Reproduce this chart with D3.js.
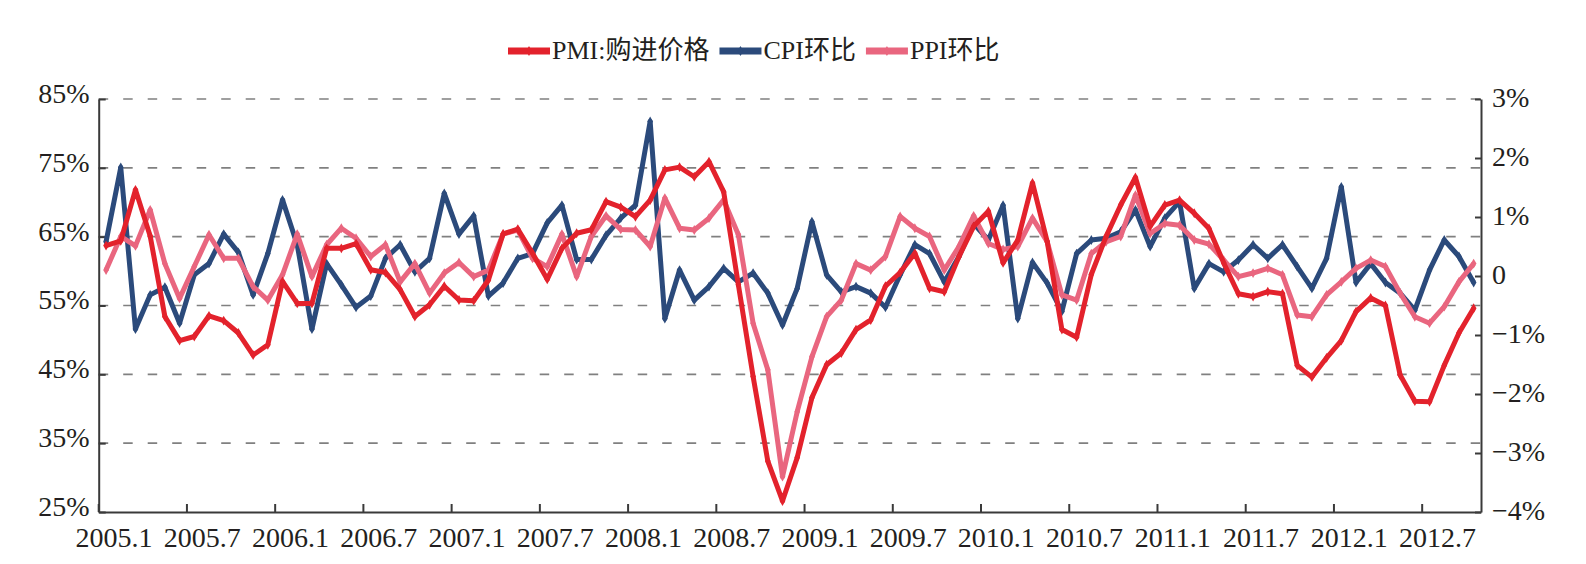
<!DOCTYPE html>
<meta charset="utf-8">

<style>
body { margin: 0; background: #fff; }
svg.chart { background: #fff; }
svg.chart text { font-family: "Liberation Serif", "Times New Roman", "Noto Sans CJK SC", serif; fill: #231f20; }
svg.chart .axis path, svg.chart .axis line { stroke: #3a3a3a; stroke-width: 2; }
svg.chart .axis text { font-size: 28px; }
svg.chart .grid line { stroke: #808080; stroke-width: 1.6; stroke-dasharray: 9.5 15; }
svg.chart .series { fill: none; stroke-width: 5; stroke-linejoin: round; }
svg.chart .legend text { font-size: 26px; }
</style>

<svg class="chart" width="1586" height="564"></svg>

<script src="https://d3js.org/d3.v7.min.js"></script>

<script>

// months 2005.1 .. 2012.10
var months = [];
for (var yr = 2005; yr <= 2012; yr++) {
  for (var m = 1; m <= 12; m++) {
    if (yr === 2012 && m > 10) break;
    months.push(yr + "." + m);
  }
}

var tickMonths = ["2005.1", "2005.7", "2006.1", "2006.7", "2007.1", "2007.7", "2008.1", "2008.7",
  "2009.1", "2009.7", "2010.1", "2010.7", "2011.1", "2011.7", "2012.1", "2012.7"];
var leftTicks = [25, 35, 45, 55, 65, 75, 85];
var rightTicks = [-4, -3, -2, -1, 0, 1, 2, 3];

var seriesNames = ["PMI:购进价格", "CPI环比", "PPI环比"];

// PMI purchase price index (%), left axis
var pmi = [63.7, 64.4, 71.8, 65.1, 53.4, 49.9, 50.5, 53.5, 52.8, 51.0, 47.8, 49.3,
  58.5, 55.3, 55.3, 63.3, 63.3, 64.0, 60.2, 59.8, 57.3, 53.4, 55.1, 57.8,
  55.8, 55.7, 58.7, 65.4, 66.1, 62.6, 58.8, 63.3, 65.5, 66.0, 70.1, 69.3,
  67.9, 70.3, 74.7, 75.1, 73.7, 75.9, 71.5, 58.0, 44.7, 32.4, 26.6, 32.9,
  41.6, 46.4, 48.1, 51.5, 52.9, 57.8, 59.8, 62.6, 57.5, 57.0, 62.1, 66.5,
  68.7, 61.2, 64.5, 72.8, 64.3, 51.5, 50.4, 59.5, 65.0, 69.6, 73.6, 66.5,
  69.6, 70.3, 68.4, 66.2, 61.2, 56.7, 56.3, 57.0, 56.7, 46.3, 44.6, 47.4,
  49.9, 54.1, 56.1, 55.0, 44.9, 41.1, 41.0, 46.3, 51.0, 54.6];

// CPI month-on-month (%), right axis
var cpi = [0.58, 1.84, -0.90, -0.32, -0.19, -0.80, 0.02, 0.21, 0.71, 0.40, -0.32, 0.38,
  1.29, 0.53, -0.90, 0.21, -0.15, -0.53, -0.34, 0.30, 0.53, 0.07, 0.30, 1.40,
  0.71, 1.02, -0.34, -0.12, 0.30, 0.38, 0.90, 1.20, 0.28, 0.28, 0.69, 0.98,
  1.20, 2.62, -0.72, 0.10, -0.41, -0.18, 0.13, -0.10, 0.05, -0.29, -0.83, -0.21,
  0.92, 0.02, -0.27, -0.18, -0.29, -0.53, 0.02, 0.53, 0.38, -0.10, 0.33, 0.89,
  0.61, 1.20, -0.72, 0.23, -0.12, -0.60, 0.38, 0.61, 0.64, 0.75, 1.12, 0.50,
  0.98, 1.26, -0.21, 0.21, 0.07, 0.27, 0.53, 0.30, 0.53, 0.16, -0.21, 0.30,
  1.51, -0.11, 0.21, -0.11, -0.29, -0.58, 0.10, 0.61, 0.33, -0.11];

// PPI month-on-month (%), right axis
var ppi = [0.10, 0.67, 0.51, 1.12, 0.21, -0.38, 0.16, 0.70, 0.30, 0.30, -0.18, -0.41,
  0.02, 0.71, -0.01, 0.53, 0.81, 0.64, 0.33, 0.53, -0.10, 0.21, -0.29, 0.05,
  0.23, -0.01, 0.10, 0.71, 0.78, 0.30, 0.16, 0.71, -0.01, 0.67, 1.02, 0.79,
  0.78, 0.50, 1.32, 0.81, 0.78, 0.98, 1.29, 0.70, -0.80, -1.59, -3.40, -2.30,
  -1.37, -0.69, -0.41, 0.21, 0.10, 0.33, 1.01, 0.81, 0.67, 0.10, 0.50, 1.02,
  0.55, 0.45, 0.50, 0.98, 0.58, -0.32, -0.41, 0.38, 0.58, 0.67, 1.37, 0.72,
  0.89, 0.86, 0.61, 0.54, 0.27, -0.01, 0.05, 0.13, 0.02, -0.66, -0.69, -0.32,
  -0.10, 0.13, 0.27, 0.16, -0.29, -0.69, -0.80, -0.52, -0.10, 0.21];

var colors = {pmi: "#e3222c", cpi: "#2b4a7b", ppi: "#e9667f"};

var svg = d3.select("svg.chart");
var margin = {top: 99, right: 105, bottom: 52, left: 98.7};
var width = +svg.attr("width") - margin.left - margin.right;
var height = +svg.attr("height") - margin.top - margin.bottom;

var chart = svg.append("g")
  .attr("transform", `translate(${margin.left},${margin.top})`);

var xScale = d3.scaleBand().domain(months).range([0, width]).padding(0);
var bw = xScale.bandwidth();
var yLeft = d3.scaleLinear().domain([25, 85]).range([height, 0]);
var yRight = d3.scaleLinear().domain([-4, 3]).range([height, 0]);

// Grid
chart.append("g")
  .attr("class", "grid")
  .selectAll("line")
  .data(leftTicks.filter(function(d) { return d !== 25; }))
  .enter().append("line")
    .attr("x1", 0)
    .attr("x2", width)
    .attr("y1", function(d) { return yLeft(d); })
    .attr("y2", function(d) { return yLeft(d); });

// Axes
var xAxis = chart.append("g")
  .attr("class", "x axis")
  .attr("transform", `translate(0,${height})`)
  .call(d3.axisBottom(xScale).tickValues(tickMonths).tickSize(-8).tickSizeOuter(0).tickPadding(15));
xAxis.selectAll(".tick line").attr("transform", `translate(${-bw / 2},0)`);
xAxis.selectAll(".tick text").attr("dx", 8);

chart.append("g")
  .attr("class", "y axis")
  .call(d3.axisLeft(yLeft).tickValues(leftTicks).tickSize(-7).tickSizeOuter(0).tickPadding(9)
    .tickFormat(function(d) { return d + "%"; }))
  .selectAll(".tick text").attr("dy", "0.12em");

chart.append("g")
  .attr("class", "y2 axis")
  .attr("transform", `translate(${width},0)`)
  .call(d3.axisRight(yRight).tickValues(rightTicks).tickSize(-6).tickSizeOuter(0).tickPadding(11)
    .tickFormat(function(d) {
      if (d === 0) return "0";
      return (d < 0 ? "\u2212" + Math.abs(d) : d) + "%";
    }))
  .selectAll(".tick text").attr("dy", "0.25em");

// Series
var series = [
  {key: "cpi", values: cpi, y: yRight},
  {key: "ppi", values: ppi, y: yRight},
  {key: "pmi", values: pmi, y: yLeft}
];

var diamond = d3.symbol().type(d3.symbolDiamond).size(28);

series.forEach(function(s) {
  var line = d3.line()
    .x(function(d, i) { return xScale(months[i]) + bw / 2; })
    .y(function(d) { return s.y(d); });

  chart.append("path")
    .attr("class", "series")
    .attr("stroke", colors[s.key])
    .attr("d", line(s.values));

  chart.append("g")
    .selectAll("path")
    .data(s.values)
    .enter().append("path")
      .attr("d", diamond)
      .attr("fill", colors[s.key])
      .attr("transform", function(d, i) {
        return `translate(${xScale(months[i]) + bw / 2},${s.y(d)})`;
      });
});

// Legend
var legend = svg.append("g").attr("class", "legend");
var legendKeys = ["pmi", "cpi", "ppi"];
var lx = 508, ly = 51;
legendKeys.forEach(function(k, i) {
  var g = legend.append("g").attr("transform", `translate(${lx},${ly})`);
  g.append("line")
    .attr("x1", 0).attr("x2", 42)
    .attr("stroke", colors[k]).attr("stroke-width", 7);
  g.append("path")
    .attr("d", d3.symbol().type(d3.symbolDiamond).size(30))
    .attr("fill", colors[k])
    .attr("transform", "translate(21,0)");
  var t = g.append("text")
    .attr("x", 44)
    .attr("y", 8)
    .text(seriesNames[i]);
  lx += 44 + t.node().getComputedTextLength() + 10;
});

</script>
